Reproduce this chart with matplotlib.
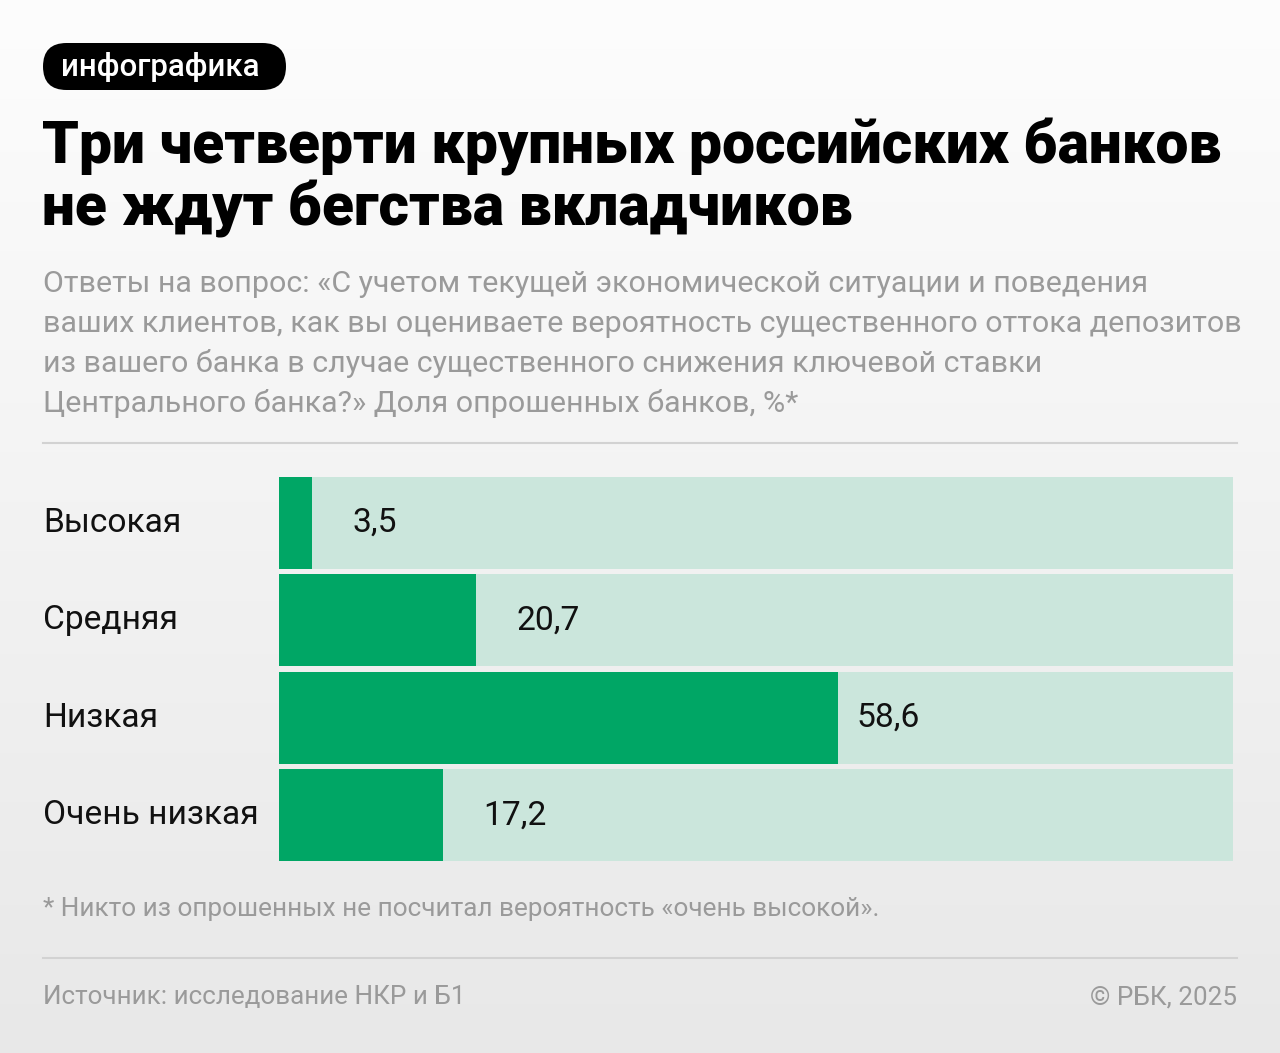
import matplotlib
matplotlib.use("Agg")
import matplotlib.pyplot as plt
import numpy as np
from matplotlib.patches import FancyBboxPatch
from matplotlib.lines import Line2D
from matplotlib.transforms import IdentityTransform, blended_transform_factory

# ---- data ----
categories = ["Высокая", "Средняя", "Низкая", "Очень низкая"]
values = [3.5, 20.7, 58.6, 17.2]
value_labels = ["3,5", "20,7", "58,6", "17,2"]
total = 100

title_lines = ["Три четверти крупных российских банков", "не ждут бегства вкладчиков"]
subtitle_lines = [
    "Ответы на вопрос: «С учетом текущей экономической ситуации и поведения",
    "ваших клиентов, как вы оцениваете вероятность существенного оттока депозитов",
    "из вашего банка в случае существенного снижения ключевой ставки",
    "Центрального банка?» Доля опрошенных банков, %*",
]
tag = "инфографика"
footnote = "* Никто из опрошенных не посчитал вероятность «очень высокой»."
source = "Источник: исследование НКР и Б1"
copyright_text = "© РБК, 2025"

W, H = 1280, 1053
FONT = ["Roboto", "DejaVu Sans"]
plt.rcParams["font.family"] = FONT

fig = plt.figure(figsize=(W / 100, H / 100), dpi=100)

def fx(x):
    return x / W

def fy(y):
    return 1 - y / H

# background gradient
bg = fig.add_axes([0, 0, 1, 1], zorder=-10)
grad = np.linspace(0, 1, 256).reshape(-1, 1)
top = np.array([0.992, 0.992, 0.992])
bot = np.array([0.91, 0.91, 0.91])
img = top + (bot - top) * grad[..., None]
img = np.repeat(img, 2, axis=1)
bg.imshow(img, aspect="auto", extent=[0, 1, 0, 1], origin="upper")
bg.set_axis_off()

# tag pill
r = 23.5
pill = FancyBboxPatch((43, H - 90), 243, 47,
                      boxstyle=f"round,pad=0,rounding_size={r}",
                      transform=IdentityTransform(), facecolor="#000000", edgecolor="none")
fig.patches.append(pill)
fig.text(fx(160), fy(67), tag, color="white", fontsize=22.5, fontweight="medium",
         ha="center", va="center")

# title
for i, line in enumerate(title_lines):
    fig.text(fx(42), fy(163 + i * 63), line, fontsize=42.3, fontweight="black",
             color="#000000", ha="left", va="baseline")

# subtitle
for i, line in enumerate(subtitle_lines):
    fig.text(fx(43), fy(292 + i * 40), line, fontsize=21.9, color="#9a9a9a",
             ha="left", va="baseline")

# separators
fig.add_artist(Line2D([fx(43), fx(1237)], [fy(443), fy(443)], color="#d2d2d2", lw=1.5,
                      transform=fig.transFigure))
fig.add_artist(Line2D([fx(43), fx(1237)], [fy(958), fy(958)], color="#d2d2d2", lw=1.5,
                      transform=fig.transFigure))

# bars
ax = fig.add_axes([fx(279), fy(864), fx(1233) - fx(279), fy(474) - fy(864)])
ax.set_xlim(0, total)
ax.set_ylim(len(categories) - 0.5, -0.5)
ax.set_axis_off()
ypos = np.arange(len(categories))
ax.barh(ypos, [total] * len(categories), height=0.94, color="#cbe6dc", edgecolor="none")
ax.barh(ypos, values, height=0.94, color="#00a665", edgecolor="none")
label_tr = blended_transform_factory(fig.transFigure, ax.transData)
for y, v, lab, cat in zip(ypos, values, value_labels, categories):
    off = 4.2 if v < 50 else 1.9
    ax.text(v + off, y, lab, fontsize=24.2, color="#111111", ha="left", va="center")
    ax.text(fx(43), y, cat, transform=label_tr, fontsize=24.1, color="#111111",
            ha="left", va="center")

# footnote and source
fig.text(fx(43), fy(916), footnote, fontsize=18.8, color="#9a9a9a", ha="left", va="baseline")
fig.text(fx(43), fy(1004), source, fontsize=18.7, color="#9a9a9a", ha="left", va="baseline")
fig.text(fx(1237), fy(1004), copyright_text, fontsize=18.7, color="#9a9a9a", ha="right",
         va="baseline")

fig.savefig("out.png", dpi=100)
